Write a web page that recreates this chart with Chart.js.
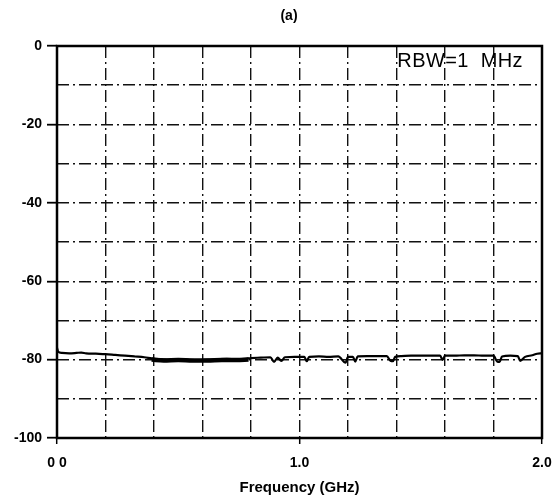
<!DOCTYPE html>
<html>
<head>
<meta charset="utf-8">
<script src="https://cdn.jsdelivr.net/npm/chart.js@4/dist/chart.umd.min.js"></script>
<style>
  body { margin: 0; background: #fff; }
</style>
</head>
<body>
<canvas id="spectrum" width="554" height="501"></canvas>
<script>
// spectrum trace, frequency in GHz, level in dB
const freqGHz = [0, 0.005, 0.02, 0.05, 0.08, 0.1, 0.12, 0.16, 0.2, 0.24, 0.28, 0.32, 0.36, 0.39,
  0.42, 0.46, 0.5, 0.54, 0.58, 0.62, 0.66, 0.7, 0.74, 0.78, 0.8, 0.84, 0.88, 0.895, 0.91, 0.925,
  0.94, 0.98, 1.02, 1.03, 1.04, 1.08, 1.12, 1.16, 1.19, 1.2, 1.22, 1.23, 1.24, 1.28, 1.32, 1.36,
  1.375, 1.385, 1.395, 1.42, 1.46, 1.5, 1.54, 1.58, 1.59, 1.6, 1.64, 1.68, 1.72, 1.76, 1.8,
  1.815, 1.825, 1.835, 1.87, 1.9, 1.91, 1.93, 1.96, 1.98, 2.0];
const levelDb = [-77.0, -78.0, -78.3, -78.4, -78.3, -78.2, -78.4, -78.5, -78.6, -78.8, -79.0, -79.2, -79.4, -79.7,
  -79.9, -80.0, -79.9, -80.0, -80.1, -80.0, -79.9, -79.8, -79.9, -79.8, -79.6, -79.5, -79.4, -80.6, -79.5, -80.3,
  -79.4, -79.3, -79.3, -80.4, -79.3, -79.2, -79.3, -79.2, -80.8, -79.3, -79.3, -80.5, -79.2, -79.1, -79.1, -79.1,
  -80.3, -80.4, -79.3, -79.1, -79.0, -79.0, -79.0, -79.0, -80.1, -79.0, -79.0, -78.9, -78.9, -79.0, -79.0,
  -80.5, -80.6, -79.2, -79.0, -79.1, -80.3, -79.3, -78.9, -78.5, -78.4];
// noisy wide part of the trace
const bandGHz = [0.39, 0.44, 0.5, 0.56, 0.62, 0.68, 0.74, 0.79];
const bandDb = [-80.0, -80.2, -80.1, -80.2, -80.2, -80.1, -80.1, -80.0];

const yLabels = { 0: '0', '-20': '-20', '-40': '-40', '-60': '-60', '-80': '-80', '-100': '-100' };
const xLabels = { 0: '0 0', 1: '1.0', 2: '2.0' };

const FONT = "'Liberation Sans', Arial, sans-serif";
const dashGrid = [12, 4, 2, 4];

const whiteBg = {
  id: 'whiteBg',
  beforeDraw(chart) {
    const c = chart.ctx;
    c.save();
    c.fillStyle = '#fff';
    c.fillRect(0, 0, chart.width, chart.height);
    c.restore();
  }
};

const frameAndText = {
  id: 'frameAndText',
  afterDraw(chart) {
    const c = chart.ctx;
    const a = chart.chartArea;
    c.save();
    c.strokeStyle = '#000';
    c.lineWidth = 2.5;
    c.strokeRect(a.left, a.top, a.right - a.left, a.bottom - a.top);
    c.fillStyle = '#000';
    c.textBaseline = 'middle';
    c.textAlign = 'center';
    c.font = 'bold 14px ' + FONT;
    c.fillText('(a)', 289, 16);
    c.textAlign = 'right';
    c.font = '20px ' + FONT;
    c.letterSpacing = '0.4px';
    c.fillText('RBW=1  MHz', a.right - 19, a.top + 15);
    c.restore();
  }
};

new Chart(document.getElementById('spectrum'), {
  type: 'line',
  data: {
    datasets: [
      {
        data: freqGHz.map((f, i) => ({ x: f, y: levelDb[i] })),
        borderColor: '#000',
        borderWidth: 2.2,
        pointRadius: 0,
        cubicInterpolationMode: 'monotone'
      },
      {
        data: bandGHz.map((f, i) => ({ x: f, y: bandDb[i] })),
        borderColor: '#000',
        borderWidth: 4.5,
        pointRadius: 0,
        cubicInterpolationMode: 'monotone'
      }
    ]
  },
  options: {
    responsive: false,
    animation: false,
    layout: { padding: { top: 46, right: 12, left: 0, bottom: 0 } },
    plugins: { legend: { display: false }, tooltip: { enabled: false } },
    scales: {
      x: {
        type: 'linear',
        min: 0, max: 2,
        afterFit: s => { s.height = 63; s.paddingLeft = 0; s.paddingRight = 0; },
        border: { display: false, dash: dashGrid },
        grid: {
          color: '#111',
          lineWidth: 1.4,
          tickLength: 6,
          tickWidth: 1.5,
          tickColor: ctx => {
            const v = ctx.tick ? ctx.tick.value : 0.5;
            return Math.abs(v - Math.round(v)) < 1e-6 ? '#000' : 'rgba(0,0,0,0)';
          }
        },
        ticks: {
          stepSize: 0.2,
          maxRotation: 0,
          autoSkip: false,
          padding: 11,
          color: '#000',
          font: { family: FONT, size: 14, weight: 'bold' },
          callback: v => {
            const r = Math.round(v);
            return Math.abs(v - r) < 1e-6 ? xLabels[r] : '';
          }
        },
        title: {
          display: true,
          text: 'Frequency (GHz)',
          color: '#000',
          font: { family: FONT, size: 15, weight: 'bold' },
          padding: { top: 0, bottom: 4 }
        }
      },
      y: {
        min: -100, max: 0,
        afterFit: s => { s.width = 57; s.paddingTop = 0; s.paddingBottom = 0; },
        border: { display: false, dash: dashGrid },
        grid: {
          color: '#111',
          lineWidth: 1.4,
          tickLength: 10,
          tickWidth: 1.8,
          tickColor: ctx => (ctx.tick && ctx.tick.value % 20 === 0) ? '#000' : 'rgba(0,0,0,0)'
        },
        ticks: {
          stepSize: 10,
          autoSkip: false,
          padding: 5,
          color: '#000',
          font: { family: FONT, size: 14, weight: 'bold' },
          callback: v => yLabels[v] || ''
        }
      }
    }
  },
  plugins: [whiteBg, frameAndText]
});
</script>
</body>
</html>
